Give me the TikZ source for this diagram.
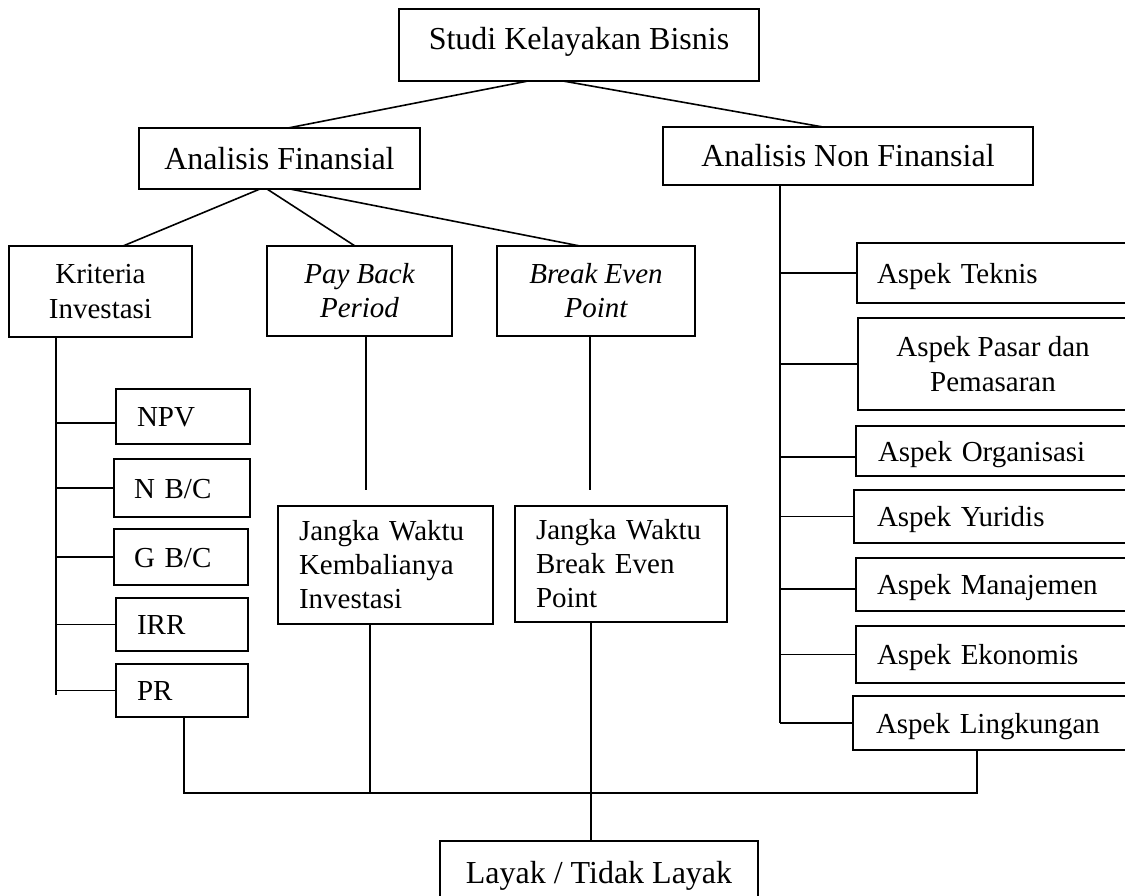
\documentclass[tikz,border=0pt]{standalone}
\usepackage{fontspec}
\setmainfont{Liberation Serif}
\begin{document}
\begin{tikzpicture}[x=1pt,y=-1pt,
  box/.style={draw, line width=1.8pt, rectangle, inner sep=0pt, outer sep=0pt},
  big/.style={font=\fontsize{32}{38}\selectfont},
  small/.style={font=\fontsize{29}{34.5}\selectfont},
  smallit/.style={font=\fontsize{29}{34}\selectfont\itshape},
  one/.style={text height=22pt, text depth=2pt},
  lbox/.style={box, small, one, align=left},
  conn/.style={line width=1.6pt},
  thinconn/.style={line width=1.3pt}]
\useasboundingbox (0,0) rectangle (1125,895);
\fill[white] (0,0) rectangle (1125,895);
\clip (0,0) rectangle (1125,895);

% top levels
\node[box,big,minimum width=360pt,minimum height=72pt,text height=20pt,text depth=12pt] (top) at (579,45) {Studi Kelayakan Bisnis};
\node[box,big,minimum width=281pt,minimum height=61pt,text height=24pt,text depth=3pt] (af) at (279.5,158.5) {Analisis Finansial};
\node[box,big,minimum width=370pt,minimum height=58pt,text height=24pt,text depth=4pt] (anf) at (848,156) {Analisis Non Finansial};

% financial branch
\node[box,small,minimum width=183pt,minimum height=91pt,align=center] (krit) at (100.5,291.5) {Kriteria\\Investasi};
\node[box,smallit,minimum width=185pt,minimum height=90pt,align=center] (pbp) at (359.5,291) {Pay Back\\Period};
\node[box,smallit,minimum width=198pt,minimum height=90pt,align=center] (bep) at (596,291) {Break Even\\Point};

\node[lbox,text width=92pt,inner xsep=21pt,minimum height=55pt] (npv) at (183,416.5) {NPV};
\node[lbox,text width=96pt,inner xsep=20pt,minimum height=58pt] (nbc) at (182,488) {N B/C};
\node[lbox,text width=94pt,inner xsep=20pt,minimum height=56pt] (gbc) at (181,557) {G B/C};
\node[lbox,text width=90pt,inner xsep=21pt,minimum height=53pt] (irr) at (182,624.5) {IRR};
\node[lbox,text width=90pt,inner xsep=21pt,minimum height=53pt] (pr) at (182,690.5) {PR};

\node[box,font=\fontsize{29}{34}\selectfont,align=left,text width=173pt,inner xsep=21pt,minimum height=118pt] (jk1) at (385.5,565) {Jangka Waktu\\Kembalianya\\Investasi};
\node[box,font=\fontsize{29}{34}\selectfont,align=left,text width=170pt,inner xsep=21pt,minimum height=116pt] (jk2) at (621,564) {Jangka Waktu\\Break Even\\Point};

% non financial branch
\node[lbox,text width=231pt,inner xsep=20pt,minimum height=60pt] (teknis) at (992.5,273) {Aspek Teknis};
\node[box,small,minimum width=270pt,minimum height=92pt,align=center] (pasar) at (993,364) {Aspek Pasar dan\\Pemasaran};
\node[lbox,text width=228pt,inner xsep=22pt,minimum height=50pt] (org) at (992,451) {Aspek Organisasi};
\node[lbox,text width=228pt,inner xsep=23pt,minimum height=53pt] (yur) at (991,516.5) {Aspek Yuridis};
\node[lbox,text width=230pt,inner xsep=21pt,minimum height=53pt] (man) at (992,584.5) {Aspek Manajemen};
\node[lbox,text width=230pt,inner xsep=21pt,minimum height=57pt] (eko) at (992,654.5) {Aspek Ekonomis};
\node[lbox,text width=229pt,inner xsep=23pt,minimum height=54pt] (ling) at (990.5,723) {Aspek Lingkungan};

% result
\node[box,big,minimum width=318pt,minimum height=64pt,text height=24pt,text depth=4pt] (layak) at (599,873) {Layak / Tidak Layak};

% helper coordinates
\coordinate (pbpend) at (366,490);
\coordinate (bepend) at (590,490);
\coordinate (kspine) at (56,695);
\coordinate (aspine) at (780,723);
\coordinate (npvb) at (116,423);
\coordinate (orgb) at (856,457);
\coordinate (manb) at (856,589);
\coordinate (busL) at (184,793);
\coordinate (busA) at (370,793);
\coordinate (busB) at (591,793);
\coordinate (busR) at (977,793);

% connectors
\draw[conn] ([xshift=-51pt]top.south) -- ([xshift=8.5pt]af.north);
\draw[conn] ([xshift=-16pt]top.south) -- ([xshift=-25pt]anf.north);
\draw[conn] ([xshift=-19.5pt]af.south) -- ([xshift=22.5pt]krit.north);
\draw[conn] ([xshift=-12.5pt]af.south) -- ([xshift=-4.5pt]pbp.north);
\draw[conn] ([xshift=10.5pt]af.south) -- ([xshift=-16pt]bep.north);
\draw[thinconn] (pbp.south -| pbpend) -- (pbpend);
\draw[thinconn] (bep.south -| bepend) -- (bepend);

\draw[conn] (krit.south -| kspine) -- (kspine);
\draw[conn] (kspine |- npvb) -- (npvb);
\foreach \n in {nbc,gbc,irr,pr} \draw[conn] (kspine |- \n.west) -- (\n.west);

\draw[conn] (anf.south -| aspine) -- (aspine);
\foreach \n in {teknis,pasar,yur,eko,ling} \draw[conn] (aspine |- \n.west) -- (\n.west);
\draw[conn] (aspine |- orgb) -- (orgb);
\draw[conn] (aspine |- manb) -- (manb);

\draw[conn] (pr.south -| busL) -- (busL) -- (busR) -- (ling.south -| busR);
\draw[thinconn] (jk1.south -| busA) -- (busA);
\draw[thinconn] (jk2.south -| busB) -- (layak.north -| busB);
\end{tikzpicture}
\end{document}
